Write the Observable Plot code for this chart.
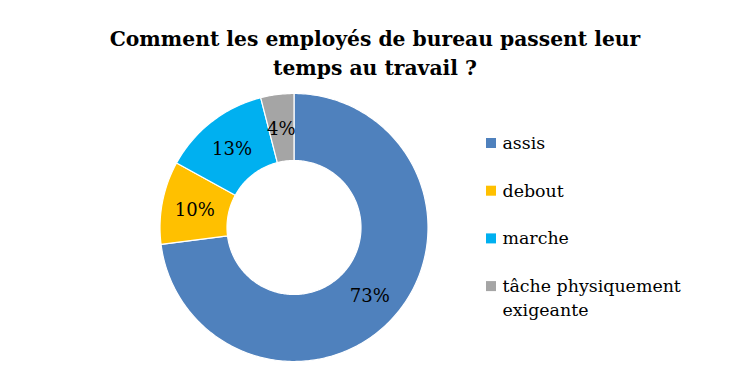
<!DOCTYPE html>
<html>
<head>
<meta charset="utf-8">
<script src="https://cdn.jsdelivr.net/npm/d3@7"></script>
<script src="https://cdn.jsdelivr.net/npm/@observablehq/plot@0.6"></script>
<style>
  html, body { margin: 0; padding: 0; background: #fff; }
  #wrap { width: 750px; height: 381px; overflow: hidden; }
  #title {
    box-sizing: border-box; height: 84px; padding-top: 25px; margin: 0;
    font-family: "DejaVu Serif", serif; font-weight: bold; font-size: 20.3px;
    line-height: 29px; text-align: center; color: #000; width: 750px;
  }
  svg { display: block; }
</style>
</head>
<body>
<div id="wrap">
  <div id="title">Comment les employés de bureau passent leur<br>temps au travail ?</div>
  <div id="chart"></div>
</div>
<script>
// ---- data ----
const categories = ["assis", "debout", "marche", "tâche physiquement exigeante"];
const values = [73, 10, 13, 4];
const labels = ["73%", "10%", "13%", "4%"];
const colors = ["#4F81BD", "#FFC000", "#00B0F0", "#A5A5A5"];

// ---- layout ----
const W = 750, H = 297;
const cx = 293.5, cy = 143, rOuter = 134, rInner = 67, rLabel = 101;
const legendX = 486, legendY0 = 59, legendStep = 47.7, sq = 10;

const total = d3.sum(values);
let acc = 0;
const slices = values.map((v, i) => {
  const a0 = acc / total * 2 * Math.PI;
  acc += v;
  const a1 = acc / total * 2 * Math.PI;
  return {cat: categories[i], label: labels[i], a0, a1, am: (a0 + a1) / 2};
});

// polygon points for each ring slice (angles clockwise from 12 o'clock)
const pts = [];
for (const s of slices) {
  const n = Math.max(4, Math.ceil((s.a1 - s.a0) / (Math.PI / 180)));
  for (let k = 0; k <= n; k++) {
    const a = s.a0 + (s.a1 - s.a0) * k / n;
    pts.push({cat: s.cat, x: cx + rOuter * Math.sin(a), y: cy - rOuter * Math.cos(a)});
  }
  for (let k = n; k >= 0; k--) {
    const a = s.a0 + (s.a1 - s.a0) * k / n;
    pts.push({cat: s.cat, x: cx + rInner * Math.sin(a), y: cy - rInner * Math.cos(a)});
  }
}

const labelPts = slices.map(s => ({
  label: s.label, x: cx + rLabel * Math.sin(s.am), y: cy - rLabel * Math.cos(s.am)
}));

const legend = categories.map((c, i) => ({
  cat: c, text: c.replace("physiquement ", "physiquement\n"),
  y: legendY0 + i * legendStep
}));

const chart = Plot.plot({
  width: W, height: H,
  margin: 0,
  x: {domain: [0, W], range: [0, W], axis: null},
  y: {domain: [0, H], range: [0, H], axis: null},
  color: {domain: categories, range: colors},
  style: {fontFamily: "'DejaVu Serif', serif", background: "#fff"},
  marks: [
    Plot.line(pts, {x: "x", y: "y", z: "cat", fill: "cat", stroke: "#fff", strokeWidth: 1.2, curve: "linear-closed"}),
    Plot.text(labelPts, {x: "x", y: "y", text: "label", fontSize: 18, fill: "#000", dy: 2}),
    Plot.rect(legend, {x1: () => legendX, x2: () => legendX + sq, y1: d => d.y - sq / 2, y2: d => d.y + sq / 2, fill: "cat"}),
    Plot.text(legend, {x: () => legendX + 16, y: "y", text: "text", textAnchor: "start", lineAnchor: "top", dy: -11.5, fontSize: 17.4, lineHeight: 1.38, fill: "#000"})
  ]
});
document.getElementById("chart").appendChild(chart);
</script>
</body>
</html>
